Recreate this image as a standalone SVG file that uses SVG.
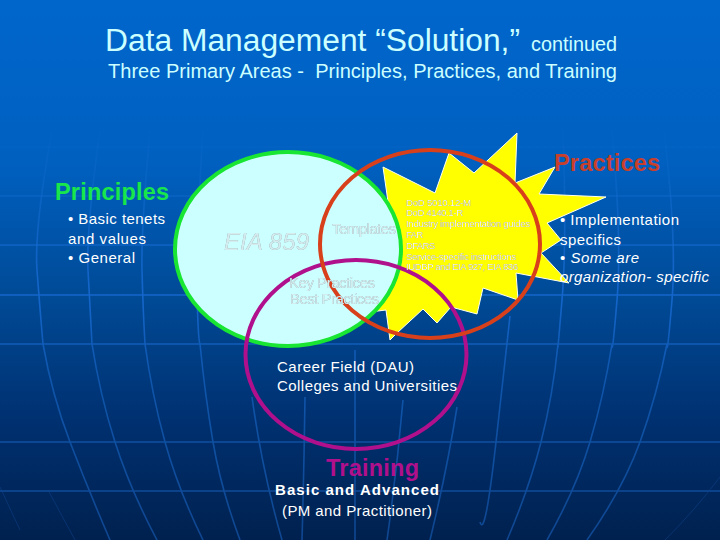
<svg xmlns="http://www.w3.org/2000/svg" width="720" height="540" viewBox="0 0 720 540">
<style>
text{font-family:"Liberation Sans",Arial,sans-serif}
.g{fill:none;stroke:url(#gl);stroke-width:1.6}
.w{fill:#fff;font-size:15px}
.em{fill:#d4ecee;filter:drop-shadow(.8px .8px 0 #7c8c98)}
.sm{fill:#fffff0;font-size:9.500px;filter:drop-shadow(.7px .7px 0 #77772c)}
.h{font-size:23.500px;font-weight:bold}
.t{fill:#ccffff}
</style>
<defs>
<linearGradient id="bg" x1="0" y1="0" x2="0" y2="1"><stop offset="0" stop-color="#0066cc"/><stop offset=".3" stop-color="#0060c0"/><stop offset=".55" stop-color="#004a96"/><stop offset=".78" stop-color="#003070"/><stop offset="1" stop-color="#00214f"/></linearGradient>
<linearGradient id="gl" gradientUnits="userSpaceOnUse" x1="0" y1="120" x2="0" y2="540"><stop offset="0" stop-color="#1a70d0" stop-opacity="0"/><stop offset=".2" stop-color="#1a70d8" stop-opacity=".4"/><stop offset=".42" stop-color="#1466cc"/><stop offset=".6" stop-color="#0f56ad"/><stop offset="1" stop-color="#0f4690"/></linearGradient>
</defs>
<rect id="background" width="720" height="540" fill="url(#bg)"/>
<g id="grid">
<path class="g" d="M0 147H720M0 196H720M0 245H720M0 295H720M0 344H720M0 442H720M0 491H720"/>
<path class="g" d="M52 130Q34 230 37 270T43 344Q52 395 70 442T110 540"/>
<path class="g" d="M100 130Q86 230 88 270T92 344Q100 395 115 442T157 540"/>
<path class="g" d="M150 130Q141 230 142 270T145 344Q152 395 165 442T203 540"/>
<path class="g" d="M203 130Q196 240 197 290T200 344Q205 395 213 442T240 540"/>
<path class="g" d="M252 397Q262 470 282 540"/>
<path class="g" d="M305 397Q304 470 302 540"/>
<path class="g" d="M355 350V540"/>
<path class="g" d="M403 400Q397 470 387 540"/>
<path class="g" d="M457 407Q447 470 430 540"/>
<path class="g" d="M510 316Q507 344 496 442T480 522"/>
<path class="g" d="M563 130Q567 240 562 300T558 344Q553 395 541 442T507 540"/>
<path class="g" d="M612 130Q622 240 617 300T612 344Q604 395 590 442T547 540"/>
<path class="g" d="M664 130Q677 240 672 300T667 344Q657 395 640 442T587 540"/>
<path d="M0 487L20 530M48 490L75 540M720 477Q695 510 665 540" fill="none" stroke="#0f4690" stroke-width="1" opacity=".5"/>
</g>
<g id="practices-star"><polygon points="517,133 515,183 555,167 539,194 606,197 547,223 561,240 541,253 569,283 516,273 518,300 483,288 477,314 451,307 437,323 423,309 397,333 390,340 386,310 370,312 395,250 383,167 435,193 449,153 474,173" fill="#ffff00" stroke="#fffff0" stroke-width="1"/></g>
<g id="principles-circle"><ellipse cx="288" cy="249" rx="113" ry="97" fill="#ccffff" stroke="#19e632" stroke-width="4"/></g>
<g id="training-circle"><ellipse cx="356" cy="354.500" rx="110.500" ry="94.500" fill="none" stroke="#b0108c" stroke-width="4"/></g>
<g id="practices-circle"><ellipse cx="430" cy="244" rx="110" ry="94" fill="none" stroke="#d8401c" stroke-width="4"/></g>
<g id="title">
<text class="t" x="105" y="51" font-size="31px" textLength="415" lengthAdjust="spacingAndGlyphs">Data Management “Solution,”</text>
<text class="t" x="531" y="51" font-size="20px" textLength="86" lengthAdjust="spacingAndGlyphs">continued</text>
<text class="t" x="108" y="78" font-size="20.500px" textLength="509" lengthAdjust="spacingAndGlyphs" xml:space="preserve">Three Primary Areas -  Principles, Practices, and Training</text>
</g>
<g id="principles-text">
<text class="h" x="55" y="200" fill="#19e64b" textLength="114">Principles</text>
<text class="w" x="68" y="224" textLength="97">• Basic tenets</text>
<text class="w" x="68" y="244" textLength="78">and values</text>
<text class="w" x="68" y="263" textLength="67">• General</text>
</g>
<g id="circle-labels">
<text class="em" x="224" y="250" font-size="24px" font-style="italic" textLength="85">EIA 859</text>
<text class="em" x="332" y="234" font-size="15px" textLength="64">Templates</text>
<text class="em" x="289" y="288" font-size="15px" textLength="86">Key Practices</text>
<text class="em" x="290" y="304" font-size="15px" textLength="89">Best Practices</text>
</g>
<g id="practices-list">
<text class="sm" x="406" y="206" textLength="65">DoD 5010.12-M</text>
<text class="sm" x="406" y="216" textLength="57">DoD 4140.1-R</text>
<text class="sm" x="406" y="227" textLength="124">Industry implementation guides</text>
<text class="sm" x="406" y="238" textLength="17">FAR</text>
<text class="sm" x="406" y="249" textLength="29">DFARS</text>
<text class="sm" x="406" y="260" textLength="110">Service-specific instructions</text>
<text class="sm" x="406" y="270" textLength="112">IUDBP and EIA 927, EIA 836</text>
</g>
<g id="practices-text">
<text class="h" x="554" y="171" fill="#c8402c" textLength="106">Practices</text>
<text class="w" x="560" y="225" textLength="119">• Implementation</text>
<text class="w" x="560" y="245" textLength="61">specifics</text>
<text class="w" x="560" y="263" textLength="79">• <tspan font-style="italic">Some are</tspan></text>
<text class="w" x="560" y="282" font-style="italic" textLength="149">organization- specific</text>
</g>
<g id="training-text">
<text class="w" x="277" y="372" textLength="137">Career Field (DAU)</text>
<text class="w" x="277" y="391" textLength="180">Colleges and Universities</text>
<text class="h" x="326" y="476" fill="#b0108c" textLength="93">Training</text>
<text class="w" x="275" y="495" font-weight="bold" font-size="16.500px" textLength="164">Basic and Advanced</text>
<text class="w" x="282" y="516" textLength="150">(PM and Practitioner)</text>
</g>
</svg>
